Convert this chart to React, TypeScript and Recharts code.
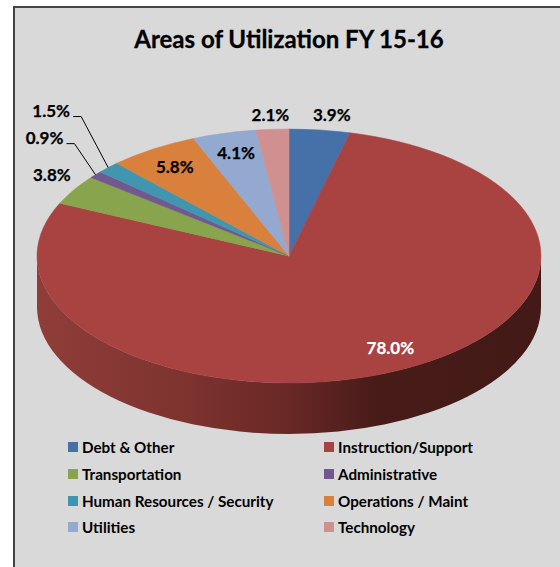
import * as React from "react";
import { Legend, Pie, PieChart } from "recharts";

const categories = [
  "Debt & Other",
  "Instruction/Support",
  "Transportation",
  "Administrative",
  "Human Resources / Security",
  "Operations / Maint",
  "Utilities",
  "Technology",
];
const shares = [3.9, 78.0, 3.8, 0.9, 1.5, 5.8, 4.1, 2.1];
const colors = ["#4571a8", "#a84342", "#88a44d", "#71588f", "#4096ae", "#d9803c", "#93a9cf", "#d09090"];

// label nudges from the rim of the ellipse, same order as categories
const labelNudges = [
  [12, -15],
  [-8, -23],
  [-22, -15],
  [-51, -37],
  [-57, -57],
  [22, 17],
  [12, 19],
  [-2, -15],
];

const data = categories.map((name, i) => ({ name, value: shares[i], fill: colors[i] }));

const FONT = "Lato, Carlito, sans-serif";
const TILT = 127 / 252; // squash of the pie's top face
const DEPTH = 51; // height of the pie wall

const rad = (deg: number) => (deg * Math.PI) / 180;

function PieSlice3D(props: any) {
  const { cx, cy, outerRadius, startAngle, endAngle, fill } = props;
  const rx = outerRadius;
  const ry = outerRadius * TILT;
  const pt = (deg: number, dy = 0) =>
    `${cx + rx * Math.cos(rad(deg))} ${cy - ry * Math.sin(rad(deg)) + dy}`;
  const large = Math.abs(startAngle - endAngle) > 180 ? 1 : 0;
  const top = `M${cx} ${cy}L${pt(startAngle)}A${rx} ${ry} 0 ${large} 1 ${pt(endAngle)}Z`;

  // wall shows only where the slice crosses the front half
  const wallFrom = Math.min(startAngle, 0);
  const wallTo = Math.max(endAngle, -180);
  const wall =
    wallFrom > wallTo
      ? `M${pt(wallFrom)}A${rx} ${ry} 0 0 1 ${pt(wallTo)}L${pt(wallTo, DEPTH)}A${rx} ${ry} 0 0 0 ${pt(wallFrom, DEPTH)}Z`
      : null;

  return (
    <g>
      {wall && <path d={wall} fill="url(#wallShade)" stroke="none" />}
      <path d={top} fill={fill} stroke={fill} strokeWidth={0.5} />
    </g>
  );
}

function SliceLabel(props: any) {
  const { cx, cy, outerRadius, midAngle, index, value } = props;
  const rimX = cx + outerRadius * Math.cos(rad(midAngle));
  const rimY = cy - outerRadius * TILT * Math.sin(rad(midAngle));
  const [dx, dy] = labelNudges[index];
  const x = rimX + dx;
  const y = rimY + dy;
  const hasLeader = shares[index] < 2;
  return (
    <g>
      {hasLeader && (
        <polyline
          points={`${x + 22} ${y + 6} ${x + 30} ${y + 6} ${rimX} ${rimY}`}
          fill="none"
          stroke="#000"
          strokeWidth={1}
        />
      )}
      <text
        x={x}
        y={y}
        textAnchor="middle"
        dominantBaseline="central"
        fontFamily={FONT}
        fontWeight={700}
        fontSize={17}
        stroke={index === 1 ? "#fff" : "#000"}
        strokeWidth={0.25}
        fill={index === 1 ? "#fff" : "#000"}
      >
        {value.toFixed(1)}%
      </text>
    </g>
  );
}

function LegendGrid({ payload }: any) {
  return (
    <div style={{ display: "grid", gridTemplateColumns: "256px 200px", rowGap: 0 }}>
      {(payload || []).map((item: any) => (
        <div
          key={item.value}
          style={{
            display: "flex",
            alignItems: "center",
            height: 26.7,
            fontFamily: FONT,
            fontWeight: 700,
            fontSize: 15.2,
            color: "#000",
            whiteSpace: "nowrap",
          }}
        >
          <span style={{ width: 10, height: 10, background: item.color, marginRight: 4 }} />
          {item.value}
        </div>
      ))}
    </div>
  );
}

export default function App() {
  return (
    <div style={{ position: "absolute", left: 0, top: 0, width: 560, height: 567, background: "#fff" }}>
      <div
        style={{
          position: "absolute",
          left: 13,
          top: 6,
          width: 547,
          height: 561,
          boxSizing: "border-box",
          background: "#d9d9d9",
          borderLeft: "2px solid #444",
          borderTop: "2px solid #444",
        }}
      />
      <PieChart
        width={560}
        height={567}
        margin={{ top: 0, right: 0, bottom: 0, left: 0 }}
        style={{ position: "absolute", left: 0, top: 0 }}
      >
        <defs>
          <linearGradient id="wallShade" gradientUnits="userSpaceOnUse" x1={37} x2={541} y1={0} y2={0}>
            <stop offset="0" stopColor="#903d39" />
            <stop offset="0.3" stopColor="#7d332e" />
            <stop offset="0.5" stopColor="#692826" />
            <stop offset="0.68" stopColor="#471b18" />
            <stop offset="1" stopColor="#431a17" />
          </linearGradient>
        </defs>
        <text
          x={289}
          y={38}
          textAnchor="middle"
          dominantBaseline="central"
          fontFamily={FONT}
          fontWeight={700}
          fontSize={24}
          stroke="#000"
          strokeWidth={0.3}
          fill="#000"
        >
          Areas of Utilization FY 15-16
        </text>
        <Pie
          data={data}
          dataKey="value"
          nameKey="name"
          cx={289}
          cy={256}
          innerRadius={0}
          outerRadius={252}
          startAngle={90}
          endAngle={-270}
          shape={PieSlice3D}
          label={SliceLabel}
          labelLine={false}
          isAnimationActive={false}
        />
        <Legend
          content={LegendGrid}
          itemSorter={null}
          wrapperStyle={{ position: "absolute", left: 68, top: 434, width: 480, bottom: "auto" }}
        />
      </PieChart>
    </div>
  );
}
